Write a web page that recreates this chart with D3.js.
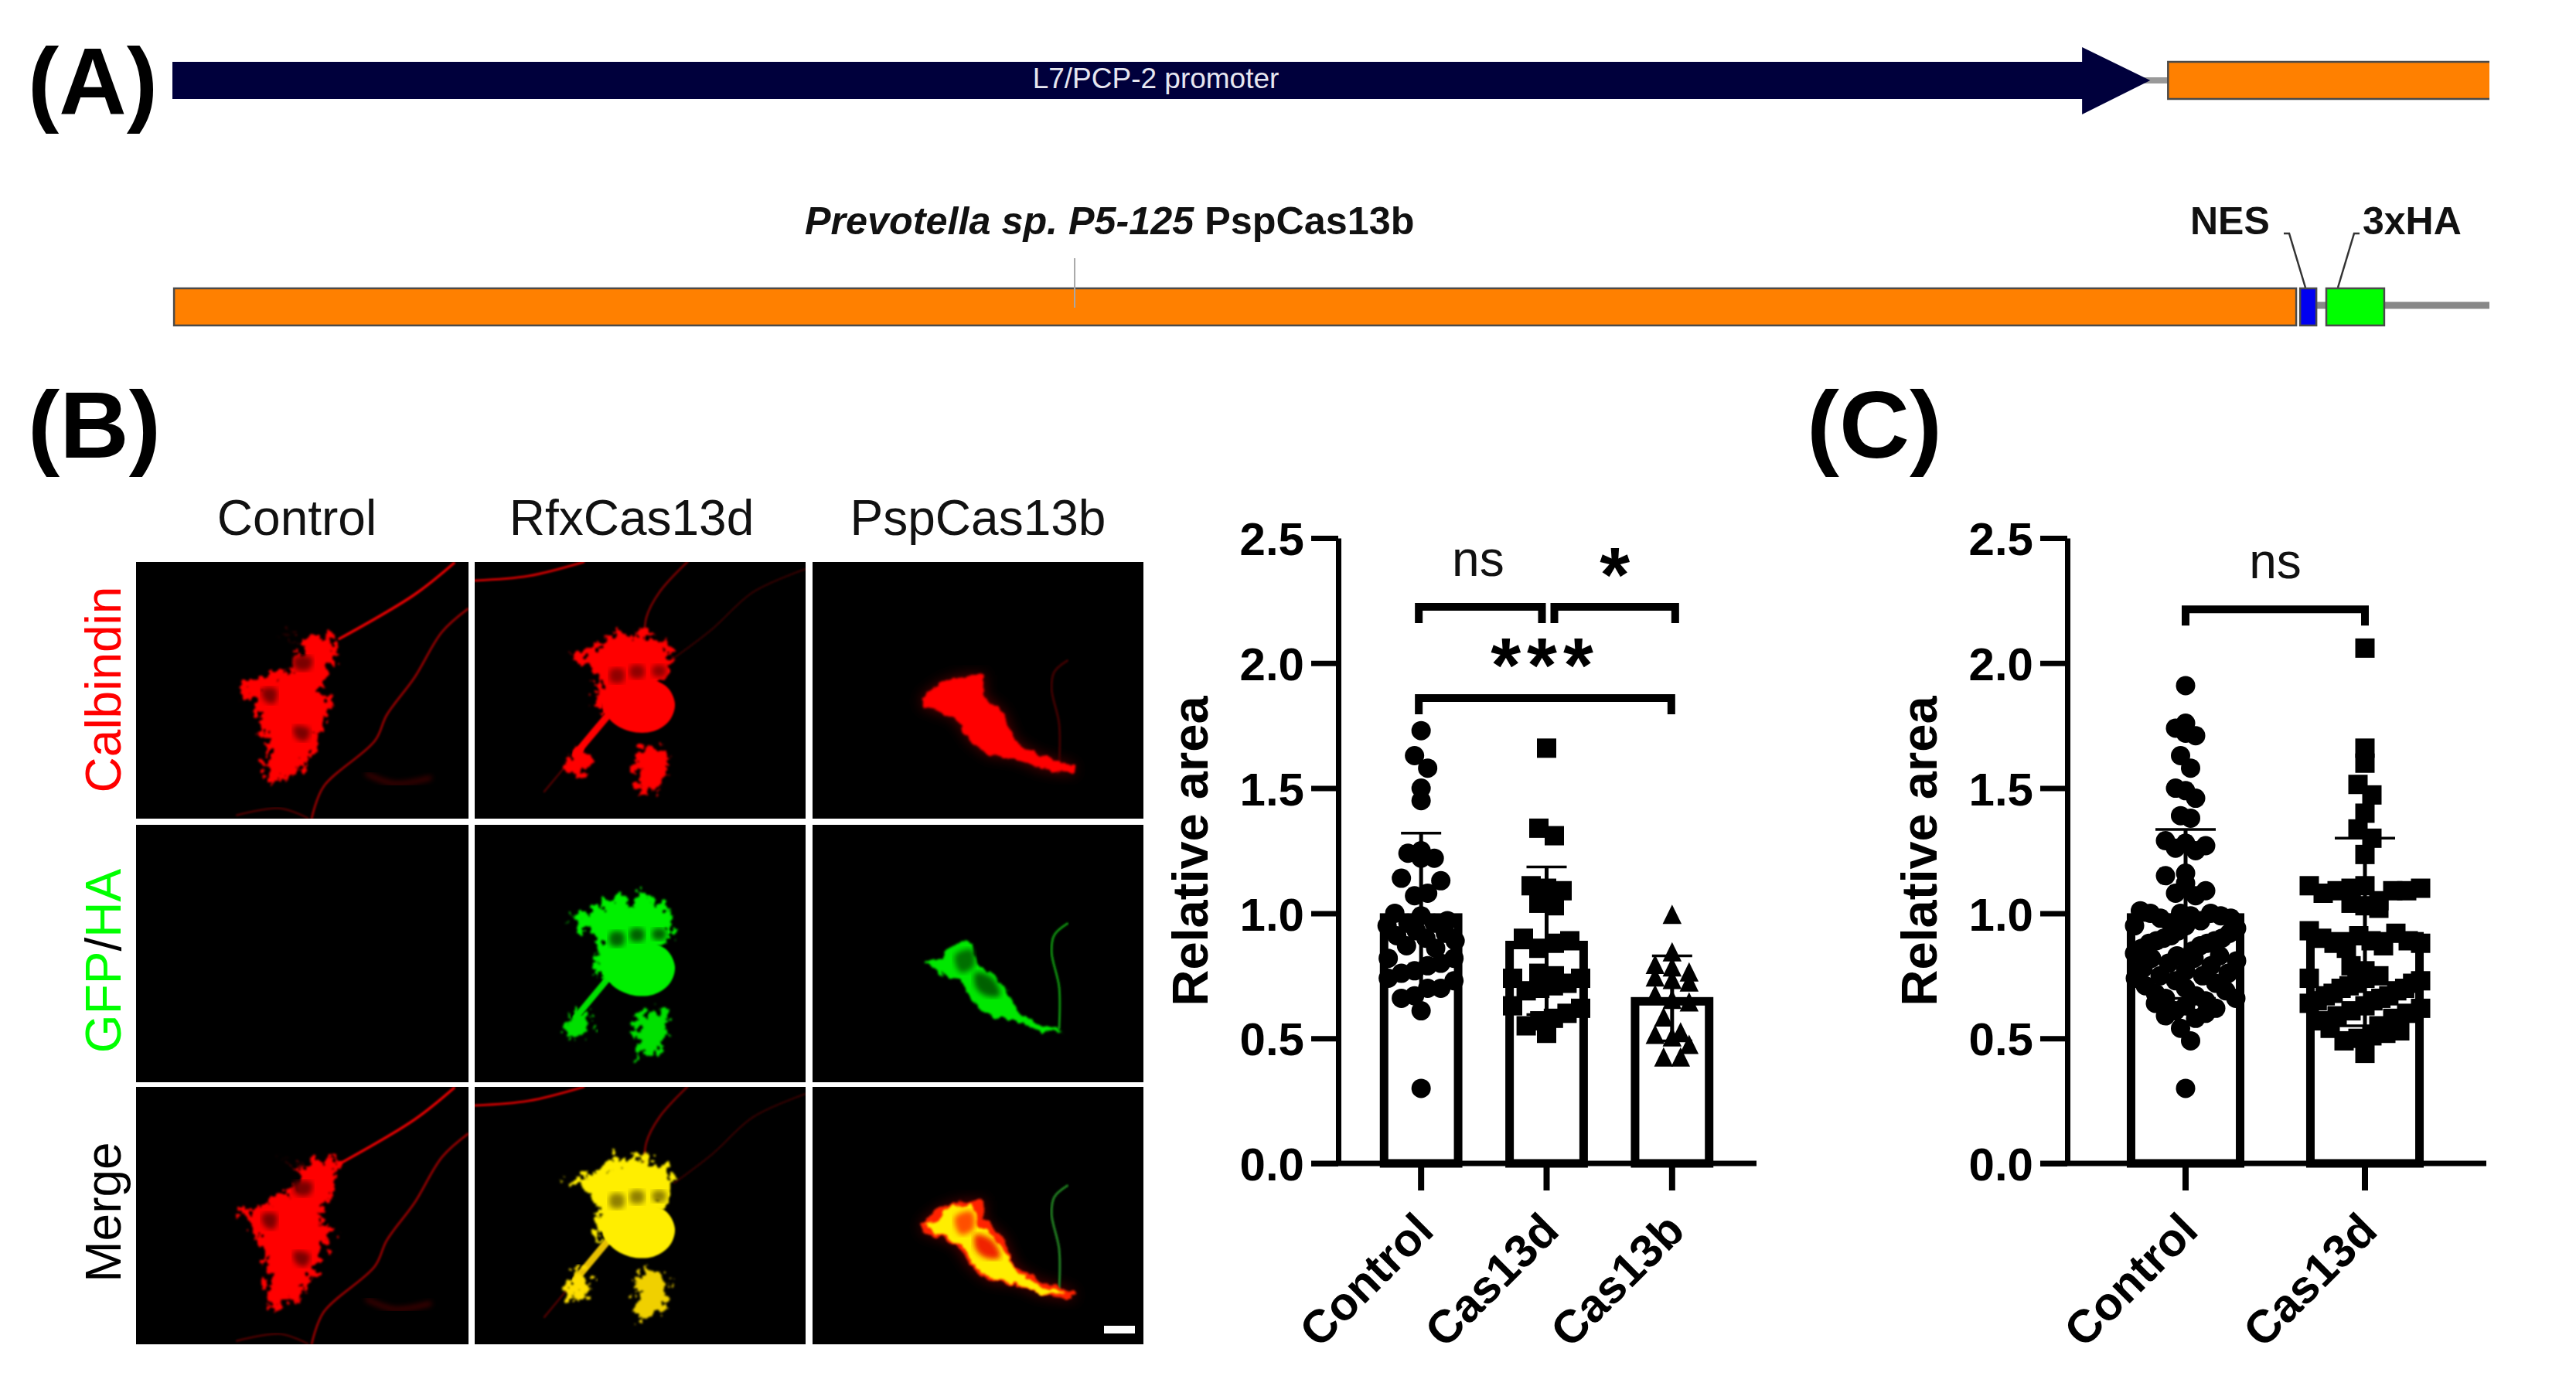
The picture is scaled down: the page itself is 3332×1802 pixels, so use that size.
<!DOCTYPE html>
<html><head><meta charset="utf-8">
<script src="https://cdn.jsdelivr.net/npm/d3@7"></script>
<style>
html,body{margin:0;padding:0;background:#fff}
svg{display:block}
text{font-family:"Liberation Sans",Arial,sans-serif}
</style></head><body>
<svg id="fig" width="3332" height="1802"></svg>
<script>
// ---------- data ----------
const yTicks = [0, 0.5, 1, 1.5, 2, 2.5];
const catsB = ["Control", "Cas13d", "Cas13b"];
const catsC = ["Control", "Cas13d"];
const meansB = [1.0, 0.89, 0.665];
const sdLowB = [0.68, 0.595, 0.49];
const sdHighB = [1.32, 1.185, 0.83];
const meansC = [1.0, 0.925];
const sdLowC = [0.66, 0.55];
const sdHighC = [1.335, 1.30];
const controlB = [1.73,1.63,1.58,1.50,1.45,1.25,1.24,1.22,1.22,1.14,1.13,1.08,1.07,1.0,.99,.97,.96,.96,.95,.93,.92,.91,.9,.89,.87,.86,.82,.82,.8,.79,.77,.76,.74,.73,.7,.7,.67,.66,.61,.3];
const cas13dB = [1.66,1.34,1.31,1.11,1.10,1.09,1.04,1.03,.9,.89,.88,.86,.76,.75,.74,.74,.72,.71,.7,.69,.63,.62,.6,.58,.57,.55,.52];
const cas13bB = [.99,.84,.79,.78,.76,.74,.73,.72,.67,.65,.64,.58,.52,.51,.50,.47,.42,.42];
const controlC = [1.91,1.76,1.74,1.72,1.71,1.63,1.58,1.50,1.49,1.46,1.39,1.38,1.29,1.28,1.27,1.26,1.25,1.16,1.15,1.12,1.09,1.08,1.07,1.01,1.0,1.0,1.0,.99,.99,.98,.98,.97,.96,.95,.95,.94,.93,.92,.91,.9,.9,.89,.89,.88,.88,.87,.86,.85,.84,.83,.83,.82,.82,.81,.8,.79,.78,.77,.76,.75,.75,.74,.73,.72,.71,.7,.69,.68,.67,.66,.66,.65,.64,.63,.62,.61,.6,.59,.58,.54,.49,.3];
const cas13dC = [2.06,1.66,1.60,1.515,1.473,1.40,1.337,1.30,1.235,1.11,1.11,1.10,1.10,1.09,1.09,1.09,1.08,1.05,1.04,1.03,1.02,.93,.92,.91,.9,.89,.89,.88,.88,.87,.86,.79,.77,.75,.74,.74,.73,.72,.72,.71,.7,.7,.69,.68,.67,.67,.66,.65,.65,.64,.63,.62,.61,.6,.59,.58,.57,.55,.54,.53,.52,.51,.5,.49,.44];
const headers = ["Control", "RfxCas13d", "PspCas13b"];
// ---------- layout ----------
const svg = d3.select("#fig");
const FONT = '"Liberation Sans",Arial,sans-serif';
svg.append("rect").attr("width",3332).attr("height",1802).attr("fill","#fff");
const defs = svg.append("defs");
function fuzzFilter(id,freq,scale,blur,seed){
  const f = defs.append("filter").attr("id",id).attr("x","-25%").attr("y","-25%").attr("width","150%").attr("height","150%");
  f.append("feTurbulence").attr("type","fractalNoise").attr("baseFrequency",freq).attr("numOctaves",3).attr("seed",seed).attr("result","n");
  f.append("feDisplacementMap").attr("in","SourceGraphic").attr("in2","n").attr("scale",scale).attr("xChannelSelector","R").attr("yChannelSelector","G").attr("result","d");
  f.append("feGaussianBlur").attr("in","d").attr("stdDeviation",blur);
}
fuzzFilter("fuzz",0.09,38,1.6,4);
fuzzFilter("fuzz2",0.07,12,1.6,9);
defs.append("filter").attr("id","soft").append("feGaussianBlur").attr("stdDeviation",1.2);
defs.append("filter").attr("id","soft3").append("feGaussianBlur").attr("stdDeviation",3.5);
defs.append("filter").attr("id","halo").append("feGaussianBlur").attr("stdDeviation",9);

function panelLabel(t,x,y,len){
  svg.append("text").text(t).attr("x",x).attr("y",y).attr("font-size",122).attr("font-weight",700)
    .attr("textLength",len).attr("lengthAdjust","spacingAndGlyphs").attr("fill","#000");
}
panelLabel("(A)",36,148,168);
panelLabel("(B)",36,592,172);
panelLabel("(C)",2337,592,175);

// ---------- panel A: construct tracks ----------
const tx = d3.scaleLinear([0,100],[223,3220]);
const yRow1 = 104, yRow2 = 397, halfH = 24;
const tr = svg.append("g");
const border = "#4a4a4a";
tr.append("line").attr("x1",tx(85)).attr("x2",tx(86.13)).attr("y1",yRow1).attr("y2",yRow1).attr("stroke","#999").attr("stroke-width",8);
const arrowP = d3.path();
arrowP.moveTo(tx(0),yRow1-halfH); arrowP.lineTo(tx(82.42),yRow1-halfH); arrowP.lineTo(tx(82.42),61);
arrowP.lineTo(tx(85.36),yRow1); arrowP.lineTo(tx(82.42),148); arrowP.lineTo(tx(82.42),yRow1+halfH); arrowP.lineTo(tx(0),yRow1+halfH); arrowP.closePath();
tr.append("path").attr("d",arrowP.toString()).attr("fill","#00003c");
tr.append("path").attr("d",`M${tx(100)},${yRow1-halfH}H${tx(86.13)}V${yRow1+halfH}H${tx(100)}`).attr("fill","#ff8000").attr("stroke",border).attr("stroke-width",2.5);
svg.append("text").text("L7/PCP-2 promoter").attr("x",1495).attr("y",114).attr("text-anchor","middle").attr("font-size",37).attr("fill","#e6e6f0");

tr.append("line").attr("x1",tx(92.4)).attr("x2",tx(100)).attr("y1",yRow2-2).attr("y2",yRow2-2).attr("stroke","#888").attr("stroke-width",9);
[[0.07,91.66,"#ff8000"],[91.83,92.53,"#0000f0"],[92.96,95.46,"#00ff00"]].forEach(f=>{
  tr.append("rect").attr("x",tx(f[0])).attr("y",yRow2-halfH).attr("width",tx(f[1])-tx(f[0])).attr("height",2*halfH).attr("fill",f[2]).attr("stroke",border).attr("stroke-width",2.5);
});
tr.append("line").attr("x1",tx(38.94)).attr("x2",tx(38.94)).attr("y1",334).attr("y2",398).attr("stroke","#a8a8a8").attr("stroke-width",2);
const lbl = svg.append("text").attr("x",1041).attr("y",303).attr("font-size",50.3).attr("font-weight",700).attr("fill","#111");
lbl.append("tspan").text("Prevotella sp. P5-125").attr("font-style","italic");
lbl.append("tspan").text(" PspCas13b");
svg.append("text").text("NES").attr("x",2833).attr("y",303).attr("font-size",50).attr("font-weight",700).attr("fill","#111");
svg.append("text").text("3xHA").attr("x",3056).attr("y",303).attr("font-size",50).attr("font-weight",700).attr("fill","#111");
const leader = d3.line();
tr.append("path").attr("d",leader([[2954,302],[2961,302],[2982,372]])).attr("fill","none").attr("stroke","#333").attr("stroke-width",2.5);
tr.append("path").attr("d",leader([[3052,302],[3045,302],[3024,372]])).attr("fill","none").attr("stroke","#333").attr("stroke-width",2.5);

// ---------- panel B: micrographs ----------
const colX = [[176,606],[614,1042],[1051,1479]];
const rowY = [[727,1059],[1067,1400],[1406,1739]];
const frames = [
  {x:[345,1187], y:[118,566]},
  {x:[614,1042], y:[727,1059]},
  {x:[560,1443], y:[118,566]}
];
const shapes = {
  c1Body:[[715,240],[760,262],[800,245],[860,245],[845,290],[825,320],[810,345],[845,365],[820,400],[800,440],[770,470],[745,490],[710,495],[685,510],[675,470],[680,430],[655,390],[640,360],[600,335],[640,330],[690,315],[740,300],[770,270]],
  c1Den1:[[860,252],[1050,175],[1150,120]],
  c1Den2:[[1185,200],[1120,240],[1050,320],[980,385],[950,430],[820,510],[790,565]],
  c1Den3:[[600,560],[710,548],[780,565]],
  c1Den4:[[930,488],[1000,505],[1090,495]],
  c1Spot:[[1065,497],[1068,497]],
  c1Hole1:[[745,285],[790,285],[785,305],[750,305]],
  c1Hole2:[[665,340],[700,340],[695,365],[670,360]],
  c1Hole3:[[745,405],[785,410],[775,430],[750,425]],
  c2Top:[[735,847],[770,838],[785,825],[800,815],[815,828],[830,812],[845,825],[866,835],[870,865],[850,890],[810,900],[795,930],[770,915],[775,880],[760,862]],
  c2Body:[[778,905],[800,885],[835,878],[862,888],[873,910],[866,932],[845,946],[815,946],[790,932]],
  c2Left:[[730,985],[745,965],[765,975],[760,1000],[735,1002]],
  c2LeftStem:[[795,915],[770,945],[745,975]],
  c2Right:[[820,975],[840,962],[865,975],[855,1020],[825,1025]],
  c2RightStem:[[838,940],[838,970]],
  c2Den1:[[614,751],[684,745],[755,727]],
  c2Den2:[[889,727],[853,766],[836,799],[834,836]],
  c2Den3:[[1042,736],[974,766],[921,814],[872,851]],
  c2Den4:[[704,1024],[734,988]],
  c2Hole1:[[790,866],[806,866],[806,882],[790,882]],
  c2Hole2:[[816,862],[832,862],[832,876],[816,876]],
  c2Hole3:[[845,862],[860,862],[860,874],[845,874]],
  c3Red:[[850,355],[900,330],[950,318],[1020,315],[1015,350],[1070,380],[1100,430],[1160,455],[1215,465],[1260,475],[1255,488],[1170,480],[1100,460],[1030,455],[980,430],[940,390],[880,375],[855,372]],
  c3Green:[[860,356],[900,351],[930,326],[985,321],[1000,361],[1040,376],[1085,416],[1110,446],[1170,466],[1235,476],[1170,481],[1100,456],[1040,453],[985,426],[960,391],[900,376]],
  c3Hole1:[[940,345],[985,335],[990,365],[955,375]],
  c3Hole2:[[995,375],[1040,385],[1060,415],[1020,415],[995,400]],
  c3Den:[[1240,290],[1205,310],[1198,340],[1218,400],[1218,472]]
};
// layer = shape, mode(fill|blob|line), colour, width, filter
const L = (s,m,c,w,f) => ({s,m,c,w:w||0,f:f||"soft"});
const c1Lines = [L("c1Den1","line","#e00000",3.5),L("c1Den2","line","#8a0000",3),L("c1Den3","line","#500000",2.5),L("c1Den4","line","#600000",4,"soft3")];
const c1Holes = [L("c1Hole1","blob","#7a0000",0,"soft3"),L("c1Hole2","blob","#7a0000",0,"soft3"),L("c1Hole3","blob","#7a0000",0,"soft3")];
const c2Thin = [L("c2Den1","line","#c80000",3),L("c2Den2","line","#700000",3),L("c2Den3","line","#300000",2.5),L("c2Den4","line","#500000",2.5)];
const holes2 = c => [L("c2Hole1","blob",c,0,"soft3"),L("c2Hole2","blob",c,0,"soft3"),L("c2Hole3","blob",c,0,"soft3")];
const panelLayers = [
 [ [...c1Lines, L("c1Body","fill","#ff0000",0,"fuzz"), ...c1Holes, L("c1Spot","line","#ff1010",7)],
   [L("c1Spot","line","#009000",5)],
   [...c1Lines, L("c1Body","fill","#ff0000",0,"fuzz"), ...c1Holes, L("c1Spot","line","#ff9000",7)] ],
 [ [...c2Thin,L("c2LeftStem","line","#ff0000",9),L("c2RightStem","line","#ff0000",6),L("c2Top","fill","#ff0000",0,"fuzz"),L("c2Body","blob","#ff0000"),L("c2Left","fill","#ff0000",0,"fuzz"),L("c2Right","fill","#ff0000",0,"fuzz"),...holes2("#900000")],
   [L("c2LeftStem","line","#00e000",8),L("c2RightStem","line","#00e000",5),L("c2Top","fill","#00f000",0,"fuzz"),L("c2Body","blob","#00f000"),L("c2Left","fill","#00e000",0,"fuzz"),L("c2Right","fill","#00e000",0,"fuzz"),...holes2("#006000")],
   [...c2Thin,L("c2LeftStem","line","#e8c000",9),L("c2RightStem","line","#e0a000",6),L("c2Top","fill","#ffee00",0,"fuzz"),L("c2Body","blob","#ffee00"),L("c2Left","fill","#ffe000",0,"fuzz"),L("c2Right","fill","#f0d000",0,"fuzz"),...holes2("#908000")] ],
 [ [L("c3Red","fill","#5a0000",0,"halo"),L("c3Den","line","#400000",3),L("c3Red","fill","#ff0000",0,"fuzz2")],
   [L("c3Den","line","#109010",3),L("c3Green","fill","#00e800",0,"fuzz2"),L("c3Hole1","blob","#007000",0,"soft3"),L("c3Hole2","blob","#006000",0,"soft3")],
   [L("c3Red","fill","#5a0000",0,"halo"),L("c3Den","line","#208020",3),L("c3Red","fill","#ff2000",0,"fuzz2"),L("c3Green","fill","#ffee00",0,"fuzz2"),L("c3Hole1","blob","#ff5000",0,"soft3"),L("c3Hole2","blob","#f02000",0,"soft3")] ]
];
const mg = svg.append("g");
colX.forEach((cx,ci)=>{
  rowY.forEach((ry,ri)=>{
    const id = `clip${ci}${ri}`;
    defs.append("clipPath").attr("id",id).append("rect").attr("x",cx[0]).attr("y",ry[0]).attr("width",cx[1]-cx[0]).attr("height",ry[1]-ry[0]);
    const p = mg.append("g").attr("clip-path",`url(#${id})`);
    p.append("rect").attr("x",cx[0]).attr("y",ry[0]).attr("width",cx[1]-cx[0]).attr("height",ry[1]-ry[0]).attr("fill","#000");
    const fx = d3.scaleLinear(frames[ci].x,cx), fy = d3.scaleLinear(frames[ci].y,ry);
    const ln = d3.line().x(d=>fx(d[0])).y(d=>fy(d[1]));
    const curved = d3.line().x(d=>fx(d[0])).y(d=>fy(d[1])).curve(d3.curveCatmullRom);
    const closed = d3.line().x(d=>fx(d[0])).y(d=>fy(d[1])).curve(d3.curveCatmullRomClosed);
    panelLayers[ci][ri].forEach(l=>{
      if(l.m==="fill"){
        p.append("path").attr("d",ln(shapes[l.s])+"Z").attr("fill",l.c).attr("filter",`url(#${l.f})`);
      } else if(l.m==="blob"){
        p.append("path").attr("d",closed(shapes[l.s])).attr("fill",l.c).attr("filter",`url(#${l.f})`);
      } else {
        p.append("path").attr("d",curved(shapes[l.s])).attr("fill","none").attr("stroke",l.c).attr("stroke-width",l.w).attr("stroke-linecap","round").attr("filter",`url(#${l.f})`);
      }
    });
  });
});
// scale bar
mg.append("rect").attr("x",1428).attr("y",1715).attr("width",40).attr("height",10).attr("fill","#fff");
const hdrX = [384,817,1265];
headers.forEach((h,i)=>svg.append("text").text(h).attr("x",hdrX[i]).attr("y",692).attr("text-anchor","middle").attr("font-size",64).attr("fill","#111"));
function vert(yc){ return svg.append("text").attr("transform",`translate(156,${yc}) rotate(-90)`).attr("text-anchor","middle").attr("font-size",64); }
vert(892).text("Calbindin").attr("fill","#ff0000");
const gfp = vert(1243);
gfp.append("tspan").text("GFP").attr("fill","#00ff00");
gfp.append("tspan").text("/").attr("fill","#000");
gfp.append("tspan").text("HA").attr("fill","#00ff00");
vert(1568).text("Merge").attr("fill","#000");

// ---------- bar charts ----------
const yRange = [1505, 696];
// Prism-style scatter: values grouped in bins, each bin spread symmetrically round the centre
function gcd(a,b){ return b ? gcd(b,a%b) : a; }
function binSwarm(values, y, binW, stepX, maxHalf){
  const groups = d3.groups(values, v=>Math.round(v/binW)).sort((a,b)=>b[0]-a[0]);
  const out = [];
  groups.forEach(([,vals])=>{
    const n = vals.length;
    const step = n>1 ? Math.min(stepX, 2*maxHalf/(n-1)) : 0;
    let stride = Math.max(1,Math.round(n*0.38));
    while(gcd(stride,n)!==1) stride++;
    vals.slice().sort((a,b)=>b-a).forEach((v,i)=>{
      const slot = (i*stride)%n;
      out.push({v,py:y(v),dx:(slot-(n-1)/2)*step});
    });
  });
  return out;
}
const symbols = {
  circle: r => d3.symbol(d3.symbolCircle, Math.PI*r*r)(),
  square: r => `M${-r},${-r}H${r}V${r}H${-r}Z`,
  triangle: r => `M0,${-r*1.15}L${r*0.98},${r*0.85}H${-r*0.98}Z`
};
function chart(o){
  const g = svg.append("g");
  const y = d3.scaleLinear([0,2.5],yRange);
  const x = d3.scaleBand().domain(o.cats).range(o.xRange).paddingInner(o.pad).paddingOuter(o.pad/2);
  const cx = c => x(c)+x.bandwidth()/2;
  const wall = 11;
  g.selectAll(".bar").data(o.cats).join("rect").attr("class","bar")
    .attr("x",d=>x(d)).attr("width",x.bandwidth())
    .attr("y",(d,i)=>y(o.means[i])+wall/2).attr("height",(d,i)=>y(0)-y(o.means[i])-wall/2)
    .attr("fill","#fff").attr("stroke","#000").attr("stroke-width",wall);
  o.cats.forEach((c,i)=>{
    const eb = g.append("g").attr("stroke","#000");
    eb.append("line").attr("x1",cx(c)).attr("x2",cx(c)).attr("y1",y(o.low[i])).attr("y2",y(o.high[i])).attr("stroke-width",5);
    [o.low[i],o.high[i]].forEach(v=>eb.append("line").attr("x1",cx(c)-o.cap).attr("x2",cx(c)+o.cap).attr("y1",y(v)).attr("y2",y(v)).attr("stroke-width",3.5));
  });
  o.series.forEach((vals,i)=>{
    const pts = binSwarm(vals,y,o.binW[i],o.stepX[i],o.maxHalf[i]);
    g.selectAll(null).data(pts).join("path").attr("d",symbols[o.sym[i]](o.size[i]))
      .attr("transform",d=>`translate(${cx(o.cats[i])+d.dx},${d.py})`).attr("fill","#000");
  });
  const ya = g.append("g").attr("transform",`translate(${o.axisX},0)`)
    .call(d3.axisLeft(y).tickValues(yTicks).tickFormat(d3.format(".1f")).tickSize(35).tickSizeOuter(0).tickPadding(9));
  ya.select(".domain").attr("stroke-width",7).attr("stroke","#000");
  ya.selectAll(".tick line").attr("stroke-width",7).attr("stroke","#000");
  ya.selectAll(".tick text").attr("font-family",FONT).attr("font-size",60).attr("font-weight",700).attr("fill","#000").attr("dy","0.36em");
  const xa = g.append("g").attr("transform",`translate(0,${y(0)})`)
    .call(d3.axisBottom(x).tickSize(35).tickSizeOuter(0).tickFormat(""));
  xa.select(".domain").attr("d",`M${o.axisX-35},0H${o.axisEnd}`).attr("stroke-width",7).attr("stroke","#000");
  xa.selectAll(".tick line").attr("stroke-width",8).attr("stroke","#000");
  o.cats.forEach(c=>{
    g.append("text").text(c).attr("transform",`translate(${cx(c)+o.lblDx},${y(0)+o.lblDy}) rotate(-45)`)
      .attr("text-anchor","end").attr("font-size",60).attr("font-weight",700).attr("fill","#000");
  });
  g.append("text").text("Relative area").attr("transform",`translate(${o.titleX},1101) rotate(-90)`)
    .attr("text-anchor","middle").attr("font-size",65).attr("font-weight",700).attr("fill","#000");
  const br = d3.line();
  o.brackets.forEach(b=>{
    const x1 = cx(o.cats[b.a])+b.d1, x2 = cx(o.cats[b.b])+b.d2, yy = y(b.v);
    g.append("path").attr("d",br([[x1,yy+b.leg],[x1,yy],[x2,yy],[x2,yy+b.leg]])).attr("fill","none").attr("stroke","#000").attr("stroke-width",10).attr("stroke-linejoin","miter");
    if(b.t==="ns"){
      g.append("text").text("ns").attr("x",(x1+x2)/2+b.tdx).attr("y",yy-40).attr("text-anchor","middle").attr("font-size",64).attr("fill","#111");
    } else {
      g.append("text").text(b.t).attr("x",(x1+x2)/2+b.tdx).attr("y",yy+b.ty).attr("text-anchor","middle").attr("font-size",100).attr("font-weight",700).attr("letter-spacing",b.t.length>1?8:0).attr("fill","#000");
    }
  });
}
chart({cats:catsB,means:meansB,low:sdLowB,high:sdHighB,series:[controlB,cas13dB,cas13bB],sym:["circle","square","triangle"],size:[12.5,12.5,12.5],
  xRange:[1757,2244],pad:0.41,axisX:1731,axisEnd:2272,cap:26,binW:[.1,.1,.08],stepX:[17,20,22],maxHalf:[44,44,48],lblDx:19,lblDy:90,titleX:1562,
  brackets:[{a:0,b:1,v:2.225,d1:-3,d2:-6,leg:21,t:"ns",tdx:-3},{a:1,b:2,v:2.225,d1:10,d2:4,leg:21,t:"*",tdx:0,ty:-7},{a:0,b:2,v:1.86,d1:-3,d2:-1,leg:21,t:"***",tdx:0,ty:-8}]});
chart({cats:catsC,means:meansC,low:sdLowC,high:sdHighC,series:[controlC,cas13dC],sym:["circle","square"],size:[12.5,12.5],
  xRange:[2711,3175],pad:0.392,axisX:2674,axisEnd:3216,cap:39,binW:[.1,.1],stepX:[13,18],maxHalf:[66,72],lblDx:19,lblDy:90,titleX:2505,
  brackets:[{a:0,b:1,v:2.215,d1:0,d2:0,leg:21,t:"ns",tdx:0}]});
</script>
</body></html>
